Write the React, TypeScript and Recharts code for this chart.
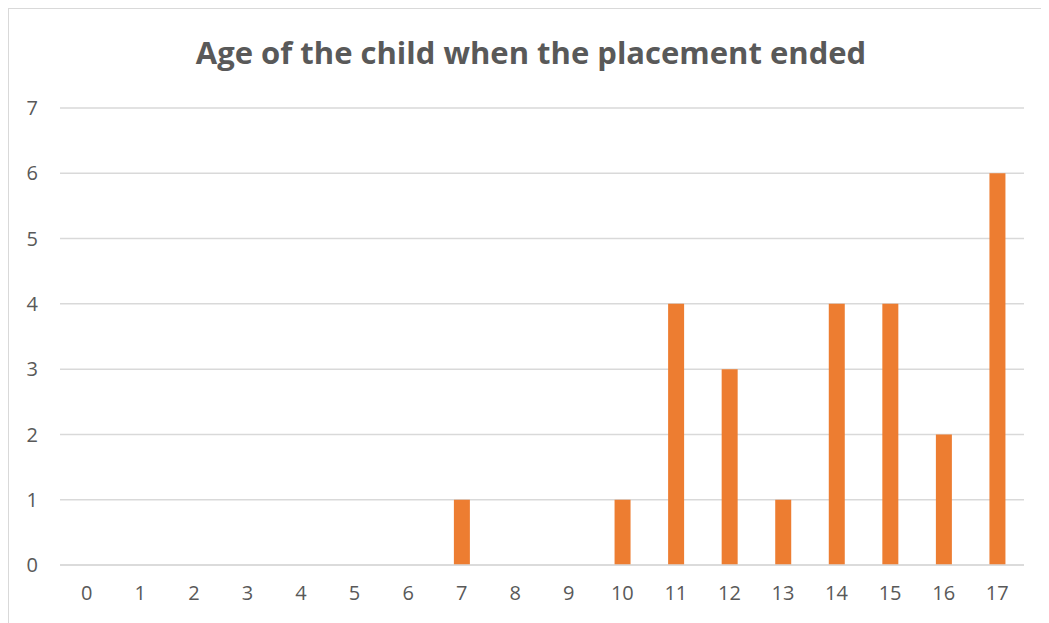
import { BarChart, Bar, XAxis, YAxis, CartesianGrid } from 'recharts';

const ages = ['0', '1', '2', '3', '4', '5', '6', '7', '8', '9', '10', '11', '12', '13', '14', '15', '16', '17'];
const counts = [0, 0, 0, 0, 0, 0, 0, 1, 0, 0, 1, 4, 3, 1, 4, 4, 2, 6];
const yTicks = [0, 1, 2, 3, 4, 5, 6, 7];

const data = ages.map((age, i) => ({ age, count: counts[i] }));

const FONT = '"Open Sans", "Liberation Sans", sans-serif';
const TEXT = '#595959';
const GRID = '#d9d9d9';

export default function App() {
  return (
    <div
      style={{
        position: 'relative',
        width: 1041,
        height: 615,
        overflow: 'hidden',
        borderLeft: `1px solid ${GRID}`,
        borderTop: `1px solid ${GRID}`,
        boxSizing: 'border-box',
        background: '#fff',
        fontFamily: FONT,
      }}
    >
      <div
        style={{
          position: 'absolute',
          top: 22,
          left: 0,
          width: 1044,
          textAlign: 'center',
          fontSize: 31,
          fontWeight: 700,
          color: TEXT,
        }}
      >
        Age of the child when the placement ended
      </div>
      <BarChart
        width={1040}
        height={614}
        data={data}
        margin={{ top: 99, right: 25, left: 0, bottom: 0 }}
        style={{ position: 'absolute', top: 0, left: 0 }}
      >
        <CartesianGrid vertical={false} stroke={GRID} strokeWidth={1.5} />
        <XAxis
          dataKey="age"
          height={58}
          axisLine={{ stroke: GRID, strokeWidth: 1.5 }}
          tickLine={false}
          tickMargin={15}
          tick={{ fill: TEXT, fontSize: 20, fontFamily: FONT }}
          interval={0}
        />
        <YAxis
          width={51}
          domain={[0, 7]}
          ticks={yTicks}
          axisLine={false}
          tickLine={false}
          tickMargin={16}
          tick={{ fill: TEXT, fontSize: 20, fontFamily: FONT }}
        />
        <Bar dataKey="count" fill="#ED7D31" barSize={16} isAnimationActive={false} />
      </BarChart>
    </div>
  );
}
